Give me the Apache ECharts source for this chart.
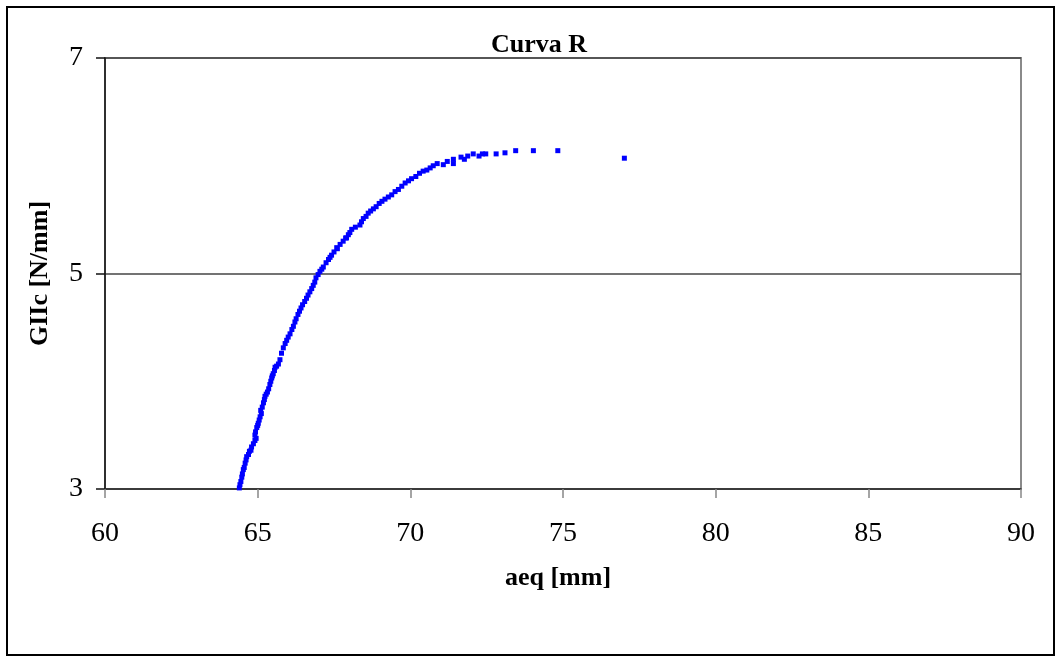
<!DOCTYPE html>
<html>
<head>
<meta charset="utf-8">
<script src="https://cdn.jsdelivr.net/npm/echarts@6/dist/echarts.min.js"></script>
<style>
  html, body { margin: 0; padding: 0; background: #fff; }
  #graph { width: 1060px; height: 661px; }
</style>
</head>
<body>
<div id="graph"></div>
<script>
var aeq = [64.42, 64.48, 64.53, 64.59, 64.64, 64.73, 64.80, 64.91, 64.91, 64.97,
  65.02, 65.08, 65.10, 65.19, 65.24, 65.32, 65.40, 65.46, 65.51, 65.57,
  65.62, 65.73, 65.84, 65.95, 66.06, 66.17, 66.26, 66.37, 66.47, 66.60,
  66.71, 66.82, 66.91, 67.04, 67.15, 67.32, 67.42, 67.59, 67.61, 67.80,
  67.91, 67.97, 68.08, 68.35, 68.46, 68.62, 68.79, 68.98, 69.17, 69.39,
  69.61, 69.83, 70.04, 70.30, 70.54, 70.75, 70.88, 71.08, 71.21, 71.41,
  71.41, 71.66, 71.77, 71.88, 72.06, 72.25, 72.36, 72.47, 72.81, 73.10,
  73.45, 74.03, 74.83, 77.01];
var giic = [3.04, 3.11, 3.18, 3.24, 3.30, 3.35, 3.39, 3.45, 3.50, 3.57,
  3.61, 3.67, 3.73, 3.80, 3.86, 3.90, 3.97, 4.03, 4.07, 4.13,
  4.14, 4.20, 4.31, 4.38, 4.44, 4.51, 4.58, 4.65, 4.71, 4.77,
  4.83, 4.89, 4.96, 5.02, 5.06, 5.13, 5.17, 5.24, 5.23, 5.30,
  5.33, 5.36, 5.41, 5.45, 5.51, 5.56, 5.60, 5.65, 5.69, 5.73,
  5.78, 5.84, 5.88, 5.93, 5.96, 6.00, 6.02, 6.01, 6.04, 6.06,
  6.02, 6.08, 6.06, 6.09, 6.11, 6.09, 6.11, 6.11, 6.11, 6.12,
  6.14, 6.14, 6.14, 6.07];

// more points of the dense part of the band
var aeq2 = [64.40, 64.45, 64.50, 64.56, 64.62, 64.70, 64.78, 64.86, 64.95, 64.93,
  65.00, 65.05, 65.12, 65.15, 65.22, 65.28, 65.36, 65.43, 65.48, 65.55,
  65.68, 65.78, 65.90, 66.00, 66.12, 66.22, 66.32, 66.42, 66.54, 66.65,
  66.77, 66.87, 66.98, 67.10, 67.24, 67.37, 67.50, 67.70, 67.88, 68.02,
  68.20, 68.40, 68.55, 68.70, 68.88, 69.07, 69.28, 69.50, 69.72, 69.94,
  70.18, 70.42, 70.65];
var giic2 = [3.01, 3.07, 3.14, 3.20, 3.27, 3.32, 3.36, 3.42, 3.47, 3.53,
  3.59, 3.64, 3.70, 3.76, 3.83, 3.88, 3.93, 4.00, 4.05, 4.10,
  4.16, 4.26, 4.35, 4.41, 4.48, 4.55, 4.62, 4.68, 4.74, 4.80,
  4.86, 4.92, 4.99, 5.04, 5.10, 5.15, 5.20, 5.27, 5.33, 5.38,
  5.43, 5.48, 5.53, 5.58, 5.62, 5.67, 5.71, 5.76, 5.81, 5.86,
  5.90, 5.95, 5.98];

var font = '"Liberation Serif", "Times New Roman", serif';

var dom = document.getElementById("graph");
var myChart = echarts.init(dom);

var points = aeq.map(function (a, i) { return [a, giic[i]]; })
  .concat(aeq2.map(function (a, i) { return [a, giic2[i]]; }));

var option = {
  animation: false,
  backgroundColor: '#fff',
  title: {
    text: 'Curva R',
    left: 534,
    top: 27,
    textAlign: 'center',
    textStyle: { fontFamily: font, fontSize: 26, fontWeight: 'bold', color: '#000' }
  },
  grid: {
    left: 105, right: 39, top: 58, bottom: 172,
    show: true,
    borderColor: '#8a8a8a',
    borderWidth: 2
  },
  xAxis: {
    type: 'value',
    min: 60, max: 90, interval: 5,
    name: 'aeq [mm]',
    nameLocation: 'middle',
    nameGap: 76,
    nameTextStyle: { fontFamily: font, fontSize: 26, fontWeight: 'bold', color: '#000', padding: [0, 10, 0, 0] },
    axisLine: { lineStyle: { color: '#333', width: 1.5 } },
    axisTick: { length: 9, lineStyle: { color: '#888', width: 1.5 } },
    axisLabel: { margin: 31, fontFamily: font, fontSize: 28, color: '#000' },
    splitLine: { show: false }
  },
  yAxis: {
    type: 'value',
    min: 3, max: 7, interval: 2,
    name: 'GIIc [N/mm]',
    nameLocation: 'middle',
    nameGap: 52,
    nameTextStyle: { fontFamily: font, fontSize: 26, fontWeight: 'bold', color: '#000' },
    axisLine: { show: true, lineStyle: { color: '#111', width: 1.5 } },
    axisTick: { show: true, length: 9, lineStyle: { color: '#111', width: 1.5 } },
    axisLabel: { margin: 22, fontFamily: font, fontSize: 28, color: '#000' },
    splitLine: { lineStyle: { color: '#444', width: 1.5 } }
  },
  series: [{
    name: 'Curva R',
    type: 'scatter',
    data: points,
    symbol: 'rect',
    symbolSize: 5,
    itemStyle: { color: '#0000ff', opacity: 1 }
  }],
  graphic: [{
    type: 'rect',
    shape: { x: 7, y: 7, width: 1047, height: 648 },
    style: { fill: null, stroke: '#000', lineWidth: 2 },
    silent: true
  }]
};

if (option && typeof option === "object") {
  myChart.setOption(option, true);
}
</script>
</body>
</html>
